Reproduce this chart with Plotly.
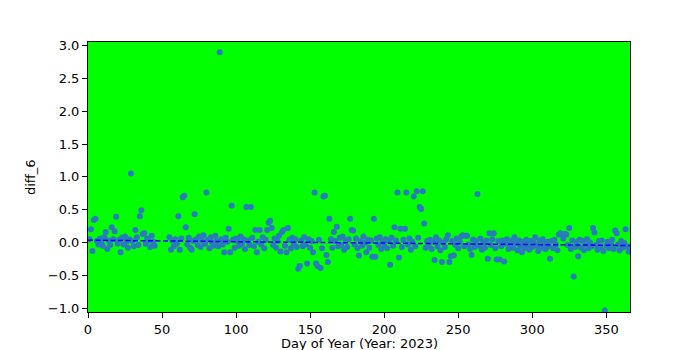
import plotly.graph_objects as go

# Day-of-year values (gap days 46-54 missing)
days = list(range(1, 46)) + list(range(55, 366))

vals_01_45 = [
    0.05, 0.20, -0.13, 0.34, 0.36, 0.02, -0.03, 0.06, 0.01, -0.05,
    0.08, 0.16, -0.10, 0.03, -0.04, 0.23, 0.05, 0.17, 0.39, -0.02,
    0.04, -0.15, 0.07, -0.03, 0.09, 0.01, -0.08, 0.05, 1.05, 0.02,
    -0.06, 0.19, 0.08, -0.04, 0.40, 0.49, 0.13, 0.14, -0.02, 0.06,
    0.03, -0.07, 0.10, 0.01, -0.05,
]
vals_55_365 = [
    0.08, -0.11, 0.03, -0.06, 0.05, -0.02,
    0.40, -0.11, 0.06, 0.69, 0.71, 0.23, -0.03, 0.07, -0.08, -0.11,
    0.02, 0.43, 0.05, -0.04, 0.09, -0.07, 0.03, 0.11, -0.02, 0.76,
    0.04, -0.09, 0.08, 0.00, -0.05, 0.10, 0.02, -0.06, 2.90, 0.05,
    -0.03, -0.15, 0.07, 0.01, 0.21, -0.15, 0.56, 0.04, -0.08, 0.06,
    0.02, -0.05, 0.09, -0.02, 0.05, -0.10, 0.54, 0.03, -0.04, 0.54,
    0.07, -0.06, 0.19, -0.15, 0.01, 0.19, -0.03, 0.08, -0.09, 0.04,
    0.19, 0.30, 0.33, 0.22, -0.04, 0.06, -0.08, 0.02, 0.10, -0.14,
    0.16, 0.19, -0.05, -0.15, 0.22, 0.04, -0.09, 0.07, -0.02, 0.05,
    -0.07, -0.40, -0.36, 0.03, -0.06, 0.08, -0.03, -0.32, 0.05, -0.08,
    0.02, -0.15, 0.76, -0.32, -0.36, 0.04, -0.39, -0.09, 0.70, 0.71,
    -0.19, -0.30, 0.36, 0.05, -0.08, 0.16, 0.02, 0.24, -0.06, 0.07,
    -0.04, 0.09, -0.11, 0.03, -0.07, 0.05, 0.36, 0.19, 0.18, -0.03,
    0.06, -0.09, -0.20, 0.02, -0.05, 0.09, -0.01, -0.15, 0.04, -0.08,
    0.03, -0.22, 0.36, -0.22, 0.06, -0.04, 0.08, -0.10, 0.01, -0.06,
    0.05, -0.09, 0.02, -0.34, 0.07, -0.05, 0.23, 0.03, 0.76, -0.23,
    0.21, -0.07, 0.04, 0.21, 0.76, -0.03, 0.06, -0.11, 0.01, 0.70,
    -0.06, 0.78, 0.07, 0.54, 0.51, 0.78, 0.29, -0.08, 0.02, -0.05,
    0.04, -0.10, 0.01, -0.27, 0.08, -0.06, 0.03, -0.12, -0.30, 0.00,
    -0.07, 0.05, 0.11, -0.30, -0.21, 0.02, -0.20, -0.04, 0.06, -0.09,
    0.01, 0.09, 0.11, -0.06, 0.10, 0.10, -0.03, -0.10, -0.19, 0.04,
    -0.07, 0.02, 0.74, -0.05, 0.06, -0.11, 0.00, -0.08, 0.03, -0.25,
    0.14, -0.04, 0.05, 0.14, -0.09, -0.26, 0.02, -0.26, -0.06, 0.03,
    -0.29, -0.02, 0.05, -0.10, -0.04, 0.02, -0.08, 0.08, -0.01, -0.12,
    0.03, -0.06, -0.15, 0.01, -0.09, 0.04, -0.03, -0.11, 0.02, -0.07,
    0.00, 0.08, -0.05, -0.13, 0.03, -0.08, 0.05, -0.02, -0.10, 0.01,
    -0.06, -0.25, 0.02, -0.09, 0.04, -0.03, -0.12, 0.12, 0.14, 0.12,
    0.06, 0.13, 0.12, -0.04, 0.22, -0.10, 0.03, -0.52, -0.07, 0.01,
    -0.21, 0.04, -0.08, 0.02, -0.12, -0.03, 0.05, -0.09, 0.00, -0.06,
    0.22, 0.15, -0.04, -0.11, 0.02, -0.07, 0.03, -0.13, -1.04, -0.05,
    0.01, -0.09, -0.02, 0.04, -0.10, 0.18, 0.14, -0.03, -0.12, 0.02,
    -0.08, -0.01, 0.20, -0.06, -0.14,
]
diff_6 = vals_01_45 + vals_55_365

trend_days = [0, 366]
trend_vals = [0.034, -0.047]

x_ticks = [0, 50, 100, 150, 200, 250, 300, 350]
y_ticks = [-1.0, -0.5, 0.0, 0.5, 1.0, 1.5, 2.0, 2.5, 3.0]

fig = go.Figure()
fig.add_trace(go.Scatter(
    x=days, y=diff_6, mode="markers",
    marker=dict(size=6, color="#2a7bbd", line=dict(width=0)),
    showlegend=False,
))
fig.add_trace(go.Scatter(
    x=trend_days, y=trend_vals, mode="lines",
    line=dict(color="#0000ff", width=1.5, dash="5px,2.5px"),
    showlegend=False,
))

font = dict(family="DejaVu Sans", size=13, color="black")
fig.update_layout(
    width=700, height=350,
    margin=dict(l=88, r=70, t=42, b=38),
    paper_bgcolor="white", plot_bgcolor="#00ff00",
    font=font,
    xaxis=dict(range=[0, 366], tickvals=x_ticks, ticks="outside", ticklen=5,
               tickcolor="black", showline=True, linecolor="black", linewidth=1,
               mirror=True, showgrid=False, zeroline=False, tickfont=font),
    yaxis=dict(range=[-1.061, 3.056], tickvals=y_ticks, tickformat=".1f",
               ticks="outside", ticklen=5, tickcolor="black", showline=True,
               linecolor="black", linewidth=1, mirror=True, showgrid=False,
               zeroline=False, tickfont=font),
    annotations=[
        dict(text="Day of Year (Year: 2023)", xref="paper", yref="paper",
             x=0.5, y=-0.118, xanchor="center", yanchor="middle",
             showarrow=False, font=font),
        dict(text="diff_6", xref="paper", yref="paper", x=-0.107, y=0.5,
             xanchor="center", yanchor="middle", textangle=-90,
             showarrow=False, font=font),
    ],
)
fig.write_html("out.html")
